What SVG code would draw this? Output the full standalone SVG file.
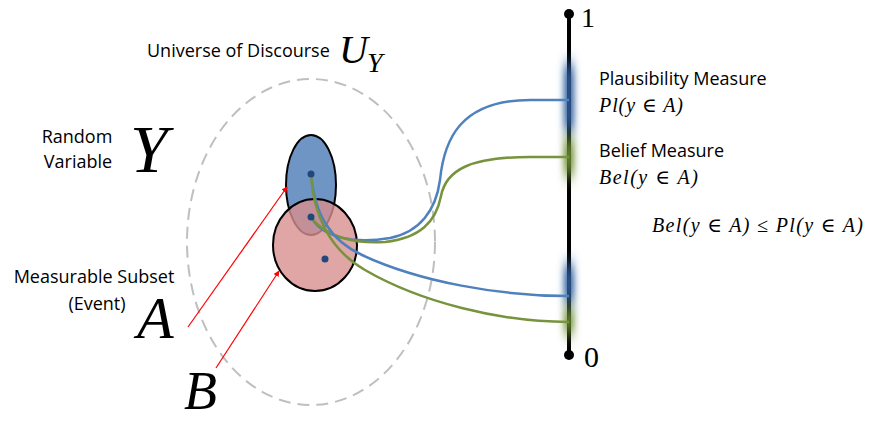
<svg xmlns="http://www.w3.org/2000/svg" width="870" height="421" viewBox="0 0 870 421">
<defs>
<style>
.sans{font-family:"Open Sans","Liberation Sans",sans-serif;font-size:18px;fill:#000}
.math{font-family:"Liberation Serif","DejaVu Serif",serif;font-style:italic;fill:#000}
.num{font-family:"Liberation Serif","DejaVu Serif",serif;fill:#000}
.cb{fill:none;stroke:#4f81bd;stroke-width:2.5}
.cg{fill:none;stroke:#77933c;stroke-width:2.5}
.red{stroke:#ff0000;stroke-width:1.2;fill:none;marker-end:url(#ah)}
</style>
<marker id="ah" viewBox="0 0 10 10" refX="9" refY="5" markerWidth="6" markerHeight="6" orient="auto" markerUnits="userSpaceOnUse">
<path d="M0,0 L10,5 L0,10 z" fill="#ff0000"/>
</marker>
<filter id="blur" x="-3" y="-1" width="7" height="3"><feGaussianBlur stdDeviation="3.5 8"/></filter>
</defs>
<rect width="870" height="421" fill="#fff"/>

<g id="universe">
<ellipse cx="311" cy="242" rx="124" ry="163" fill="none" stroke="#bfbfbf" stroke-width="2" stroke-dasharray="12 7"/>
<text class="sans" x="147" y="57">Universe of Discourse</text>
<text class="math" x="339" y="63" font-size="40">U</text>
<text class="math" x="367" y="72" font-size="28">Y</text>
</g>

<g id="random-variable">
<text class="sans" x="77" y="143" text-anchor="middle">Random</text>
<text class="sans" x="78" y="168" text-anchor="middle">Variable</text>
<text class="math" x="130" y="172" font-size="68">Y</text>
</g>

<g id="set-A">
<ellipse cx="311" cy="185" rx="25" ry="50" fill="#6f95c5" stroke="#000" stroke-width="2"/>
</g>
<g id="set-B">
<ellipse cx="315" cy="245" rx="42" ry="46" fill="#d88f8f" fill-opacity="0.8" stroke="#000" stroke-width="2"/>
</g>

<g id="labels">
<text class="sans" x="94" y="283" text-anchor="middle">Measurable Subset</text>
<text class="sans" x="97" y="310" text-anchor="middle">(Event)</text>
<text class="math" x="137" y="338" font-size="60">A</text>
<text class="math" x="184" y="409" font-size="54">B</text>
</g>

<g id="axis">
<line x1="569" y1="14" x2="569" y2="355" stroke="#000" stroke-width="4"/>
<rect x="564" y="64" width="10" height="68" fill="#2f5f9e" filter="url(#blur)"/>
<rect x="564" y="138" width="10" height="38" fill="#6e8f35" filter="url(#blur)"/>
<rect x="564" y="264" width="10" height="40" fill="#2f5f9e" filter="url(#blur)"/>
<rect x="564" y="308" width="10" height="26" fill="#6e8f35" filter="url(#blur)"/>
<circle cx="569" cy="14" r="5" fill="#000"/>
<circle cx="569" cy="355" r="5" fill="#000"/>
<text class="num" x="581" y="27" font-size="28">1</text>
<text class="num" x="584" y="367" font-size="30">0</text>
</g>

<g id="measures">
<text class="sans" x="599" y="85">Plausibility Measure</text>
<text class="math" x="599" y="112" font-size="20" textLength="84" lengthAdjust="spacing">Pl(y ∈ A)</text>
<text class="sans" x="599" y="157">Belief Measure</text>
<text class="math" x="599" y="184" font-size="20" textLength="99" lengthAdjust="spacing">Bel(y ∈ A)</text>
<text class="math" x="652" y="232" font-size="20" textLength="211" lengthAdjust="spacing">Bel(y ∈ A) ≤ Pl(y ∈ A)</text>
</g>

<g id="connectors">
<path class="cb" d="M311,217 C322,238 355,244 390,238 C420,232 436,210 440,180 C444,140 460,100 530,100 L569,100"/>
<path class="cg" d="M311,217 C325,237 355,244 385,242 C420,238 436,222 441,196 C446,170 470,157 530,157 L569,157"/>
<path class="cb" d="M311,174 C315,215 330,240 362,255 C420,282 500,296 569,296"/>
<path class="cg" d="M311,174 C313,215 330,250 365,270 C420,302 500,322 569,322"/>
<line class="red" x1="188" y1="327" x2="287" y2="187"/>
<line class="red" x1="216" y1="368" x2="279" y2="271"/>
</g>

<g id="points">
<circle cx="311" cy="174" r="3.5" fill="#1f497d"/>
<circle cx="311" cy="217" r="3.5" fill="#1f497d"/>
<circle cx="325" cy="259" r="3.5" fill="#1f497d"/>
</g>
</svg>
